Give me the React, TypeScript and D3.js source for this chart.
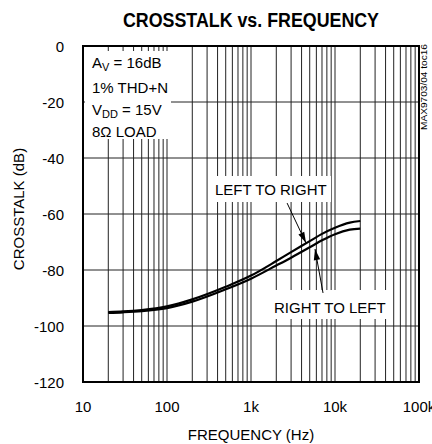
import React from 'react';
import * as d3 from 'd3';

// values
const freqHz = [20, 30, 50, 100, 200, 500, 1000, 2000, 3000, 5000, 7000, 10000, 15000, 20000];
const leftToRight = [-95, -94.8, -94.3, -93, -90.5, -86, -82, -76.8, -73.6, -69.7, -67.1, -64.9, -63.1, -62.5];
const rightToLeft = [-95.3, -95.1, -94.7, -93.6, -91.3, -86.9, -83.1, -78.4, -75.6, -71.9, -69.4, -67.2, -65.6, -65.2];

const xTicks = [10, 100, 1000, 10000, 100000];
const xTickLabels = ['10', '100', '1k', '10k', '100k'];
const yTicks = [0, -20, -40, -60, -80, -100, -120];

const width = 432;
const height = 444;
const font = '"Liberation Sans", Arial, sans-serif';

const App = () => {
    const x = d3.scaleLog().domain([10, 100000]).range([83, 419]);
    const y = d3.scaleLinear().domain([-120, 0]).range([382, 46]);

    // log grid: 1..9 in each decade
    const vGrid: number[] = [];
    for (let d = 10; d < 100000; d *= 10) {
        for (let m = 1; m < 10; m++) vGrid.push(d * m);
    }

    const line = d3.line<number>()
        .x((d, i) => x(freqHz[i]))
        .y((d) => y(d))
        .curve(d3.curveMonotoneX);

    // annotation arrows, in data units (tail -> tip)
    const arrows = [
        { from: [2690, -56.1], to: [4520, -70.4] },
        { from: [7200, -88.2], to: [5780, -72.5] },
    ];

    const arrowHead = (a: { from: number[]; to: number[] }) => {
        const x1 = x(a.from[0]), y1 = y(a.from[1]);
        const x2 = x(a.to[0]), y2 = y(a.to[1]);
        const ang = Math.atan2(y2 - y1, x2 - x1);
        const len = 11, half = 3.2;
        const bx = x2 - len * Math.cos(ang), by = y2 - len * Math.sin(ang);
        const px = -Math.sin(ang) * half, py = Math.cos(ang) * half;
        return `M${x2},${y2}L${bx + px},${by + py}L${bx - px},${by - py}Z`;
    };

    return (
        <svg width={width} height={height} style={{ position: 'absolute', left: 0, top: 0, background: '#fff' }}
            fontFamily={font}>
            <text x={251} y={27} textAnchor="middle" fontSize={20} fontWeight="bold"
                textLength={256} lengthAdjust="spacingAndGlyphs">CROSSTALK vs. FREQUENCY</text>

            {/* grid */}
            <g stroke="#222" strokeWidth={1}>
                {vGrid.map((f) => (
                    <line key={'v' + f} x1={x(f)} x2={x(f)} y1={y(0)} y2={y(-120)} />
                ))}
                {yTicks.map((t) => (
                    <line key={'h' + t} x1={x(10)} x2={x(100000)} y1={y(t)} y2={y(t)} />
                ))}
            </g>

            {/* white label boxes that hide the grid */}
            <g fill="#fff">
                <rect x={85} y={51} width={86} height={88} />
                <rect x={211} y={176} width={120} height={26} />
                <rect x={270} y={290} width={119} height={29} />
            </g>

            {/* curves */}
            <g fill="none" stroke="#000" strokeWidth={2.2} strokeLinejoin="round">
                <path d={line(leftToRight) || ''} />
                <path d={line(rightToLeft) || ''} />
            </g>

            {/* arrows */}
            {arrows.map((a, i) => (
                <g key={'a' + i}>
                    <line x1={x(a.from[0])} y1={y(a.from[1])} x2={x(a.to[0])} y2={y(a.to[1])}
                        stroke="#000" strokeWidth={1} />
                    <path d={arrowHead(a)} fill="#000" />
                </g>
            ))}

            {/* frame */}
            <rect x={x(10)} y={y(0)} width={x(100000) - x(10)} height={y(-120) - y(0)}
                fill="none" stroke="#000" strokeWidth={2} />

            {/* conditions */}
            <g fontSize={15}>
                <text x={92} y={68}>A<tspan fontSize={11} dy={3}>V</tspan><tspan dy={-3}> = 16dB</tspan></text>
                <text x={92} y={93}>1% THD+N</text>
                <text x={92} y={115}>V<tspan fontSize={11} dy={3}>DD</tspan><tspan dy={-3}> = 15V</tspan></text>
                <text x={92} y={137}>8Ω LOAD</text>
                <text x={215} y={195}>LEFT TO RIGHT</text>
                <text x={274} y={313}>RIGHT TO LEFT</text>
            </g>

            {/* y tick labels */}
            <g fontSize={15} textAnchor="end">
                {yTicks.map((t) => (
                    <text key={'yl' + t} x={64} y={y(t) + 5.5}>{t}</text>
                ))}
            </g>

            {/* x tick labels */}
            <g fontSize={15} textAnchor="middle">
                {xTicks.map((t, i) => (
                    <text key={'xl' + t} x={x(t)} y={412}>{xTickLabels[i]}</text>
                ))}
            </g>

            <text x={251} y={440} textAnchor="middle" fontSize={15}>FREQUENCY (Hz)</text>
            <text transform="translate(24,209) rotate(-90)" textAnchor="middle" fontSize={15}>CROSSTALK (dB)</text>
            <text transform="translate(427,130) rotate(-90)" fontSize={9}
                textLength={86} lengthAdjust="spacingAndGlyphs">MAX9703/04 toc16</text>
        </svg>
    );
};

export default App;
